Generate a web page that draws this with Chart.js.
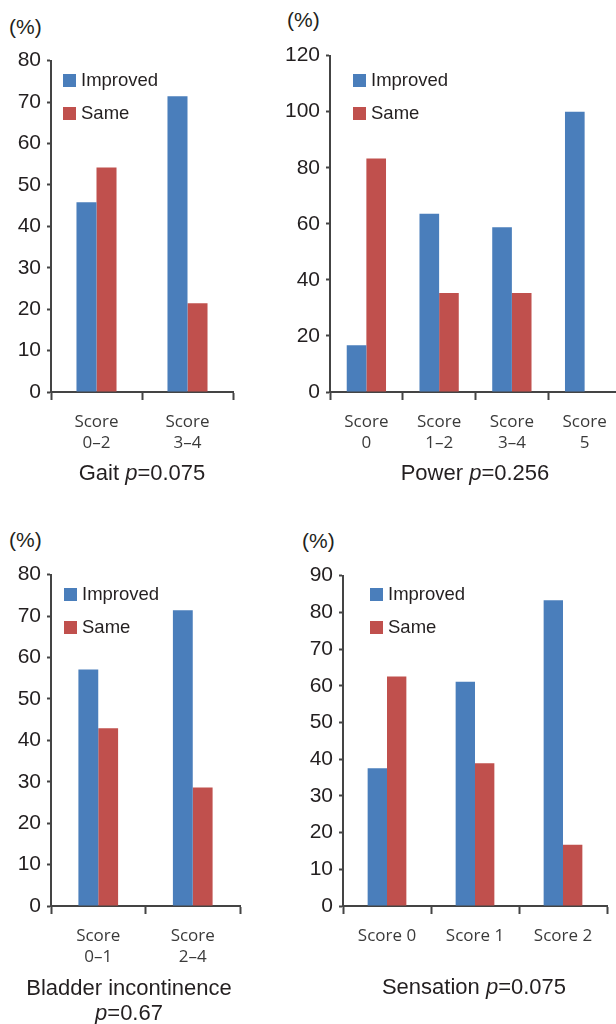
<!DOCTYPE html>
<html>
<head>
<meta charset="utf-8">
<script src="https://cdn.jsdelivr.net/npm/chart.js@4.4.1/dist/chart.umd.min.js"></script>
<style>
  html, body { margin: 0; padding: 0; background: #fff; overflow: hidden; }
  body { width: 616px; height: 1024px; position: relative; font-family: "Liberation Sans", Arial, sans-serif; color: #231f20; }
  .panel { position: absolute; }
  .unit { position: absolute; font-size: 21px; line-height: 20px; }
  .title { position: absolute; font-size: 22px; line-height: 24.5px; text-align: center; transform: translateX(-50%); white-space: nowrap; }
  .title i { font-style: italic; }
  .legend { position: absolute; font-size: 18.5px; }
  .legend div { height: 32.5px; position: relative; white-space: nowrap; }
  .legend span.box { position: absolute; left: 0; top: 0; width: 13px; height: 13px; }
  .legend span.txt { position: absolute; left: 18px; top: -4px; line-height: 20px; }
</style>
</head>
<body>
<script>
var blue = '#4a7ebb';
var red = '#c0504d';
var axisColor = '#444444';

var seriesNames = ['Improved', 'Same'];

var gaitLabels = [['Score', '0–2'], ['Score', '3–4']];
var gaitImproved = [45.8, 71.4];
var gaitSame = [54.2, 21.4];
var gaitTicks = [0, 80, 10];

var powerLabels = [['Score', '0'], ['Score', '1–2'], ['Score', '3–4'], ['Score', '5']];
var powerImproved = [16.7, 63.6, 58.8, 100];
var powerSame = [83.3, 35.3, 35.3, null];
var powerTicks = [0, 120, 20];

var bladderLabels = [['Score', '0–1'], ['Score', '2–4']];
var bladderImproved = [57.1, 71.4];
var bladderSame = [42.9, 28.6];
var bladderTicks = [0, 80, 10];

var sensationLabels = ['Score 0', 'Score 1', 'Score 2'];
var sensationImproved = [37.5, 61.1, 83.3];
var sensationSame = [62.5, 38.9, 16.7];
var sensationTicks = [0, 90, 10];

Chart.defaults.font.family = '"Liberation Sans", Arial, sans-serif';
Chart.defaults.animation = false;

var yw = 50, padTop = 16, padRight = 6, xh = 70;

function addDiv(cls, left, top, html)
{
  var d = document.createElement('div');
  d.className = cls;
  d.style.left = left + 'px';
  d.style.top = top + 'px';
  d.innerHTML = html;
  document.body.appendChild(d);
  return d;
}

// area = [left, right, top, bottom] of the plot area on the page
function makePanel(area, labels, improved, same, ticks, catPct, legendPos, unitPos, titlePos, titleHtml)
{
  var L = area[0], R = area[1], T = area[2], B = area[3];
  var w = (R - L) + yw + padRight;
  var h = (B - T) + padTop + xh;
  var holder = document.createElement('div');
  holder.className = 'panel';
  holder.style.left = (L - yw) + 'px';
  holder.style.top = (T - padTop) + 'px';
  holder.style.width = w + 'px';
  holder.style.height = h + 'px';
  var cv = document.createElement('canvas');
  holder.appendChild(cv);
  document.body.appendChild(holder);

  var n = labels.length;
  new Chart(cv.getContext('2d'), {
    type: 'bar',
    data: {
      labels: labels,
      datasets: [
        { label: seriesNames[0], data: improved, backgroundColor: blue, borderWidth: 0 },
        { label: seriesNames[1], data: same, backgroundColor: red, borderWidth: 0 }
      ]
    },
    options: {
      responsive: true,
      maintainAspectRatio: false,
      layout: { padding: { top: padTop, right: padRight, left: 0, bottom: 0 } },
      datasets: { bar: { barPercentage: 1, categoryPercentage: catPct } },
      plugins: { legend: { display: false }, tooltip: { enabled: false } },
      scales: {
        x: {
          z: 1,
          afterFit: function (s) { s.height = xh; },
          grid: {
            offset: true,
            drawOnChartArea: false,
            tickLength: 8,
            tickWidth: 2,
            tickColor: function (c) { return c.index >= n ? 'rgba(0,0,0,0)' : axisColor; }
          },
          border: { color: axisColor, width: 2 },
          ticks: { color: '#3a3a3a', padding: 11, font: { family: '"Open Sans", sans-serif', size: 17, lineHeight: 1.28 }, maxRotation: 0, autoSkip: false }
        },
        y: {
          z: 1,
          min: ticks[0], max: ticks[1],
          afterFit: function (s) { s.width = yw; },
          grid: { drawOnChartArea: false, tickLength: 4, tickWidth: 2, tickColor: axisColor },
          border: { color: axisColor, width: 2 },
          ticks: { stepSize: ticks[2], color: '#231f20', padding: 6, font: { size: 21 } }
        }
      }
    }
  });

  addDiv('unit', unitPos[0], unitPos[1], '(%)');
  addDiv('legend', legendPos[0], legendPos[1],
    '<div><span class="box" style="background:' + blue + '"></span><span class="txt">' + seriesNames[0] + '</span></div>' +
    '<div><span class="box" style="background:' + red + '"></span><span class="txt">' + seriesNames[1] + '</span></div>');
  addDiv('title', titlePos[0], titlePos[1], titleHtml);
}

makePanel([51, 233, 58, 392], gaitLabels, gaitImproved, gaitSame, gaitTicks, 0.44,
  [63, 74], [9, 17], [142, 461], 'Gait <i>p</i>=0.075');
makePanel([330, 621, 53, 392], powerLabels, powerImproved, powerSame, powerTicks, 0.54,
  [353, 74], [287, 10], [475, 461], 'Power <i>p</i>=0.256');
makePanel([51, 240, 572, 906], bladderLabels, bladderImproved, bladderSame, bladderTicks, 0.42,
  [64, 588], [9, 530], [129, 976], 'Bladder incontinence<br><i>p</i>=0.67');
makePanel([343, 607, 573, 906], sensationLabels, sensationImproved, sensationSame, sensationTicks, 0.44,
  [370, 588], [302, 531], [474, 975], 'Sensation <i>p</i>=0.075');
</script>
</body>
</html>
